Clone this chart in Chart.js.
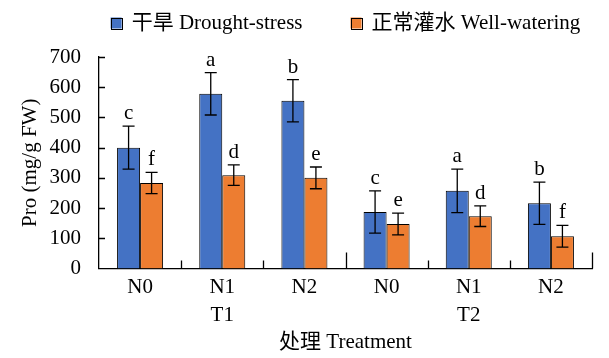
<!DOCTYPE html>
<html>
<head>
<meta charset="utf-8">
<script src="https://cdn.jsdelivr.net/npm/chart.js@4.4.0/dist/chart.umd.min.js"></script>
<style>
  body { margin: 0; background: #fff; }
  canvas { display: block; }
</style>
</head>
<body>
<canvas id="proChart" width="609" height="358"></canvas>
<script>
// data
const categories = ['N0', 'N1', 'N2', 'N0', 'N1', 'N2'];
const groups = ['', 'T1', '', '', 'T2', ''];
const seriesNames = ['干旱 Drought-stress', '正常灌水 Well-watering'];
const droughtValues = [400, 578, 555, 187, 257, 216];
const droughtErrors = [71, 70, 70, 70, 72, 70];
const wellValues = [283, 309, 300, 147, 173, 107];
const wellErrors = [35, 34, 36, 36, 34, 36];
const droughtLetters = ['c', 'a', 'b', 'c', 'a', 'b'];
const wellLetters = ['f', 'd', 'e', 'e', 'd', 'f'];

const FONT = '"Liberation Serif", "Noto Sans CJK SC", serif';
const errors = [droughtErrors, wellErrors];
const letters = [droughtLetters, wellLetters];

// error bars + significance letters
const errorBars = {
  id: 'errorBars',
  afterDatasetsDraw(chart) {
    const { ctx, scales: { y } } = chart;
    ctx.save();
    ctx.strokeStyle = '#000';
    ctx.lineWidth = 1.3;
    ctx.fillStyle = '#000';
    ctx.font = '21px ' + FONT;
    ctx.textAlign = 'center';
    ctx.textBaseline = 'alphabetic';
    chart.data.datasets.forEach((ds, i) => {
      chart.getDatasetMeta(i).data.forEach((bar, j) => {
        const v = ds.data[j], e = errors[i][j];
        const top = y.getPixelForValue(v + e);
        const bot = y.getPixelForValue(v - e);
        ctx.beginPath();
        ctx.moveTo(bar.x, top); ctx.lineTo(bar.x, bot);
        ctx.moveTo(bar.x - 6, top); ctx.lineTo(bar.x + 6, top);
        ctx.moveTo(bar.x - 6, bot); ctx.lineTo(bar.x + 6, bot);
        ctx.stroke();
        ctx.fillText(letters[i][j], bar.x, top - 7);
      });
    });
    ctx.restore();
  }
};

// inward tick marks on both axes
const innerTicks = {
  id: 'innerTicks',
  afterDraw(chart) {
    const { ctx, scales: { x, y } } = chart;
    ctx.save();
    ctx.strokeStyle = '#000';
    ctx.lineWidth = 1.3;
    ctx.beginPath();
    y.ticks.forEach(t => {
      if (t.value === 0) return;
      const py = Math.round(y.getPixelForValue(t.value)) + 0.5;
      ctx.moveTo(x.left, py); ctx.lineTo(x.left + 6, py);
    });
    const n = categories.length;
    for (let i = 1; i <= n; i++) {
      const px = Math.round(x.left + i * x.width / n) + 0.5;
      const len = i % 3 === 0 ? 16 : 8;
      ctx.moveTo(px, y.bottom); ctx.lineTo(px, y.bottom - len);
    }
    ctx.stroke();
    ctx.restore();
  }
};

// legend centred over the plot area
const topLegend = {
  id: 'topLegend',
  afterDraw(chart) {
    const { ctx, chartArea } = chart;
    const box = 11, gap = 10, between = 48, cy = 23;
    ctx.save();
    ctx.font = '21px ' + FONT;
    ctx.textBaseline = 'middle';
    const items = chart.data.datasets.map(ds => ({ ds, w: box + gap + ctx.measureText(ds.label).width }));
    const total = items.reduce((s, it) => s + it.w, 0) + between * (items.length - 1);
    let cx = (chartArea.left + chartArea.right) / 2 - total / 2;
    items.forEach(({ ds, w }) => {
      ctx.fillStyle = ds.backgroundColor;
      ctx.fillRect(cx, cy - box / 2, box, box);
      ctx.strokeStyle = '#000';
      ctx.lineWidth = 1;
      ctx.strokeRect(Math.round(cx) + 0.5, Math.round(cy - box / 2) + 0.5, box, box);
      ctx.fillStyle = '#000';
      ctx.fillText(ds.label, cx + box + gap, cy);
      cx += w + between;
    });
    ctx.restore();
  }
};

new Chart(document.getElementById('proChart'), {
  type: 'bar',
  data: {
    labels: categories.map((c, i) => [c, groups[i]]),
    datasets: [
      { label: seriesNames[0], data: droughtValues, backgroundColor: '#4472C4', borderColor: '#000', borderWidth: 1 },
      { label: seriesNames[1], data: wellValues, backgroundColor: '#ED7D31', borderColor: '#000', borderWidth: 1 }
    ]
  },
  options: {
    responsive: false,
    devicePixelRatio: 1,
    animation: false,
    categoryPercentage: 0.56,
    barPercentage: 1,
    layout: { padding: { top: 57, right: 17, left: 0, bottom: 0 } },
    plugins: { legend: { display: false }, tooltip: { enabled: false } },
    scales: {
      x: {
        grid: { display: false },
        border: { display: true, color: '#000', width: 1.3 },
        ticks: { color: '#000', padding: -3, font: { family: FONT, size: 21, lineHeight: 1.333 } },
        title: { display: true, text: '处理 Treatment', color: '#000', padding: { top: 0, bottom: 3 }, font: { family: FONT, size: 21 } },
        afterFit(scale) { scale.height = 89.5; }
      },
      y: {
        min: 0,
        max: 700,
        grid: { display: false },
        border: { display: true, color: '#000', width: 1.3 },
        ticks: { stepSize: 100, color: '#000', padding: 10, font: { family: FONT, size: 21 } },
        title: { display: true, text: 'Pro (mg/g FW)', color: '#000', padding: { top: 18, bottom: 0 }, font: { family: FONT, size: 21 } },
        afterFit(scale) { scale.width = 99; }
      }
    }
  },
  plugins: [errorBars, innerTicks, topLegend]
});
</script>
</body>
</html>
